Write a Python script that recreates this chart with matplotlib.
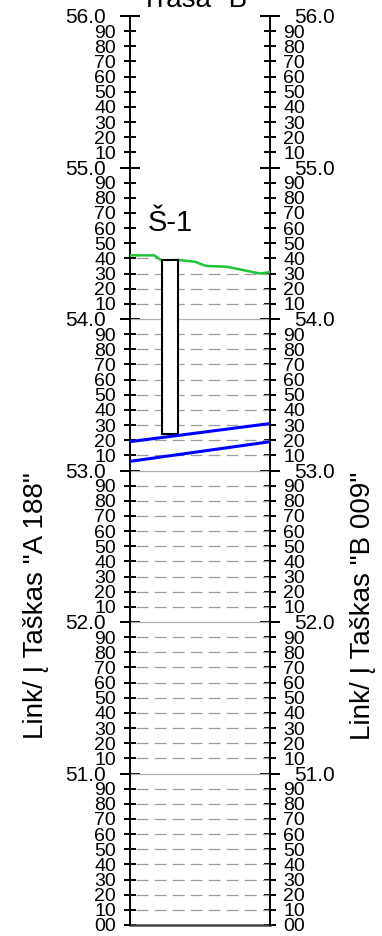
import matplotlib
matplotlib.use("Agg")
import matplotlib.pyplot as plt  # noqa: E402
from matplotlib.patches import Polygon, Rectangle  # noqa: E402
from matplotlib.ticker import FixedLocator, FuncFormatter  # noqa: E402

plt.rcParams["font.family"] = ["Liberation Sans", "DejaVu Sans"]

TITLE = 'Trasa "B"'
LEFT_LABEL = 'Link/ Į Taškas "A 188"'
RIGHT_LABEL = 'Link/ Į Taškas "B 009"'
BORE_NAME = "Š-1"

# section length (m) and elevation range
span = 10.0
z_min, z_max = 50.0, 56.0
major_levels = [51.0, 52.0, 53.0, 54.0, 55.0, 56.0]
minor_levels = [round(z_min + i / 10, 1) for i in range(60) if i % 10 or i == 0]

# ground surface
ground_x = [0.0, 1.77, 2.29, 3.47, 4.66, 5.44, 6.92, 9.29, 10.0]
ground_z = [54.42, 54.42, 54.385, 54.39, 54.378, 54.35, 54.345, 54.30, 54.31]

# borehole
bore_x = 2.30
bore_w = 1.17
bore_top = 54.39
bore_bottom = 53.24

# pipe lines (start, end elevations)
pipe_x = [0.0, 10.0]
pipe_upper = [53.19, 53.31]
pipe_lower = [53.06, 53.19]

fig = plt.figure(figsize=(3.82, 9.36), dpi=100)
ax = fig.add_axes([129.5 / 382, 11 / 936, 140.5 / 382, 909 / 936])
ax.set_xlim(0, span)
ax.set_ylim(z_min, z_max)

# grid only below the ground line
clip = Polygon(list(zip(ground_x, ground_z)) + [(span, z_min - 0.5), (0, z_min - 0.5)],
               closed=True, transform=ax.transData, facecolor="none", edgecolor="none")
dashed = [v for v in minor_levels if v != z_min]
lc = ax.hlines(dashed, 0, span, colors="#9c9c9c", lw=0.9,
               linestyles=[(9.4, (9.4, 5.0))])
lc.set_clip_path(clip)
solid = ax.hlines(major_levels[:-1], 0, span, colors="#b0b0b0", lw=0.9)
solid.set_clip_path(clip)
ax.axhline(z_min, color="#444444", lw=1.8, clip_on=False)

ax.plot(ground_x, ground_z, color="#1ec43a", lw=1.8, zorder=4)
ax.add_patch(Rectangle((bore_x, bore_bottom), bore_w, bore_top - bore_bottom,
                       facecolor="white", edgecolor="black", lw=1.5, zorder=5))
ax.text(bore_x + bore_w / 2, 54.58, BORE_NAME, ha="center", va="baseline",
        fontsize=21)
ax.plot(pipe_x, pipe_upper, color="#0000ff", lw=2.2, zorder=6)
ax.plot(pipe_x, pipe_lower, color="#0000ff", lw=2.2, zorder=6)

for side in ("top", "bottom"):
    ax.spines[side].set_visible(False)
for side in ("left", "right"):
    ax.spines[side].set_linewidth(1.4)
ax.set_xticks([])

ax.yaxis.set_major_locator(FixedLocator(major_levels))
ax.yaxis.set_minor_locator(FixedLocator(minor_levels))
ax.yaxis.set_major_formatter(FuncFormatter(lambda v, p: f"{v:.1f}"))
ax.yaxis.set_minor_formatter(FuncFormatter(lambda v, p: f"{round((v % 1) * 100):02d}"))
ax.tick_params(axis="y", which="both", direction="inout", left=True, right=True,
               labelleft=True, labelright=True, color="black", width=1.4)
ax.tick_params(axis="y", which="major", length=14.4, pad=10.0, labelsize=15)
ax.tick_params(axis="y", which="minor", length=8.6, pad=5.4, labelsize=14)

fig.text(199.5 / 382, (936 - 7) / 936, TITLE, ha="center", va="baseline", fontsize=20)
fig.text(36 / 382, (936 - 606) / 936, LEFT_LABEL, rotation=90, ha="center",
         va="center", fontsize=20)
fig.text(363 / 382, (936 - 606) / 936, RIGHT_LABEL, rotation=90, ha="center",
         va="center", fontsize=20)

fig.savefig("out.png", dpi=100)
